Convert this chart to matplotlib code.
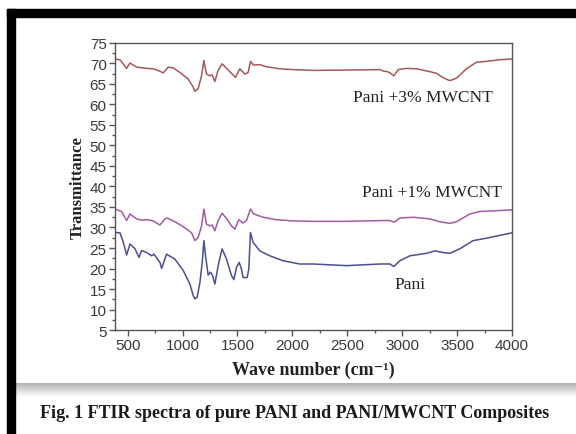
import matplotlib.pyplot as plt
import numpy as np
from matplotlib.patches import Rectangle
from matplotlib.ticker import MultipleLocator

# Pani + 3% MWCNT
wn_3 = [385, 430, 491, 521, 582, 673, 733, 794, 824, 870, 915, 976, 1051, 1097, 1112,
        1142, 1173, 1194, 1218, 1248, 1270, 1294, 1324, 1360, 1400, 1445, 1482, 1521,
        1567, 1597, 1618, 1648, 1703, 1764, 1885, 2006, 2191, 2494, 2797, 2833, 2864,
        2888, 2924, 2964, 3039, 3130, 3251, 3312, 3373, 3433, 3494, 3585, 3676, 3767,
        3888, 4000]
tr_3 = [71.1, 70.9, 68.8, 70.1, 69.1, 68.8, 68.7, 68.1, 67.7, 69.1, 68.9, 67.8, 66.2,
        64.2, 63.2, 63.9, 67.0, 70.7, 67.4, 67.0, 67.2, 65.6, 68.3, 69.9, 68.8, 67.6,
        66.6, 68.7, 67.4, 67.8, 70.5, 69.6, 69.7, 69.2, 68.7, 68.5, 68.3, 68.4, 68.5,
        68.1, 68.0, 67.7, 67.0, 68.5, 68.8, 68.7, 68.0, 67.6, 66.5, 65.8, 66.4, 68.7,
        70.3, 70.5, 70.9, 71.1]

# Pani + 1% MWCNT
wn_1 = [385, 445, 491, 521, 582, 627, 679, 733, 794, 839, 861, 930, 1006, 1082, 1112,
        1142, 1173, 1194, 1218, 1254, 1270, 1294, 1324, 1360, 1400, 1445, 1476, 1512,
        1551, 1582, 1618, 1648, 1733, 1855, 2006, 2191, 2494, 2827, 2888, 2924, 2979,
        3100, 3251, 3342, 3433, 3494, 3615, 3706, 3858, 4000]
tr_1 = [34.5, 33.9, 31.7, 33.3, 32.1, 31.8, 31.9, 31.6, 30.6, 32.1, 32.3, 31.4, 30.2,
        28.7, 26.8, 27.6, 30.4, 34.5, 30.8, 30.4, 30.6, 29.2, 31.7, 33.5, 32.2, 30.4,
        29.6, 31.9, 31.1, 31.7, 34.5, 33.3, 32.5, 31.9, 31.6, 31.5, 31.5, 31.7, 31.7,
        31.3, 32.3, 32.5, 32.1, 31.4, 31.0, 31.4, 33.3, 33.9, 34.1, 34.3]

# pure Pani
wn_0 = [385, 430, 460, 491, 521, 567, 603, 627, 673, 718, 739, 794, 809, 854, 885, 930,
        1006, 1067, 1097, 1112, 1133, 1158, 1179, 1194, 1209, 1233, 1254, 1273, 1294,
        1324, 1360, 1400, 1445, 1467, 1491, 1515, 1536, 1551, 1588, 1603, 1618, 1642,
        1703, 1794, 1915, 2067, 2191, 2494, 2797, 2888, 2924, 2979, 3070, 3221, 3297,
        3373, 3433, 3524, 3645, 3767, 4000]
tr_0 = [28.8, 28.7, 26.4, 23.3, 26.0, 24.8, 22.7, 24.4, 23.9, 23.1, 23.5, 21.5, 20.0,
        23.5, 23.0, 22.3, 19.5, 16.2, 13.4, 12.6, 13.0, 16.6, 21.5, 26.8, 23.1, 18.4,
        19.1, 18.3, 16.2, 20.7, 24.8, 22.3, 18.3, 17.3, 20.3, 21.5, 19.9, 17.8, 17.8,
        19.9, 28.8, 26.4, 24.3, 23.1, 21.9, 21.1, 21.1, 20.7, 21.1, 21.1, 20.5, 21.9,
        23.1, 23.7, 24.3, 23.9, 23.7, 24.8, 26.8, 27.4, 28.7]

labels = ["Pani +3% MWCNT", "Pani +1% MWCNT", "Pani"]
label_pos = [(3190, 61.8), (3272, 38.7), (3072, 16.2)]
colors = ["#a4585a", "#a45aa2", "#4c4e92"]

fig = plt.figure(figsize=(5.76, 4.35), dpi=100)
ax = fig.add_axes([0.1997, 0.239, 0.6893, 0.66])

for wn, tr, c in zip([wn_3, wn_1, wn_0], [tr_3, tr_1, tr_0], colors):
    ax.plot(wn, tr, color=c, lw=1.1)

for lab, (x, y) in zip(labels, label_pos):
    ax.text(x, y, lab, ha="center", va="center", fontsize=12.5,
            family="Liberation Serif", color="#222222")

ax.set_xlim(385, 4000)
ax.set_ylim(5, 75)
ax.xaxis.set_major_locator(MultipleLocator(500))
ax.xaxis.set_minor_locator(MultipleLocator(250))
ax.yaxis.set_major_locator(MultipleLocator(5))
ax.yaxis.set_minor_locator(MultipleLocator(2.5))
ax.tick_params(which="major", length=4, width=1, color="#555555",
               labelsize=11, labelcolor="#3a3a3a", pad=2)
ax.tick_params(which="minor", length=2.5, width=1, color="#555555")
for lab in ax.get_xticklabels() + ax.get_yticklabels():
    lab.set_family("Liberation Sans")
for sp in ax.spines.values():
    sp.set_color("#555555")
    sp.set_linewidth(1)

ax.set_xlabel("Wave number (cm⁻¹)", fontsize=13, fontweight="bold",
              family=["Liberation Serif", "DejaVu Serif"], color="#222222", labelpad=6)
ax.set_ylabel("Transmittance", fontsize=12, fontweight="bold",
              family="Liberation Serif", color="#222222", labelpad=3)

# black frame on top and left
W, H = 576, 435
fig.add_artist(Rectangle((7 / W, 0), 8 / W, 1 - 10 / H, transform=fig.transFigure,
                         color="black", zorder=5))
fig.add_artist(Rectangle((7 / W, 1 - 18 / H), 1, 8 / H, transform=fig.transFigure,
                         color="black", zorder=5))

# grey shadow above caption
sh = fig.add_axes([15 / W, 1 - 398 / H, 1 - 15 / W, 14 / H])
grad = np.linspace(0.70, 1.0, 50).reshape(-1, 1)
sh.imshow(grad, aspect="auto", cmap="gray", vmin=0, vmax=1, extent=(0, 1, 0, 1))
sh.axis("off")

fig.text(295 / W, 1 - 414 / H, "Fig. 1 FTIR spectra of pure PANI and PANI/MWCNT Composites",
         ha="center", va="center", fontsize=13, fontweight="bold",
         family="Liberation Serif", color="#1a1a1a")

fig.savefig("out.png", dpi=100)
